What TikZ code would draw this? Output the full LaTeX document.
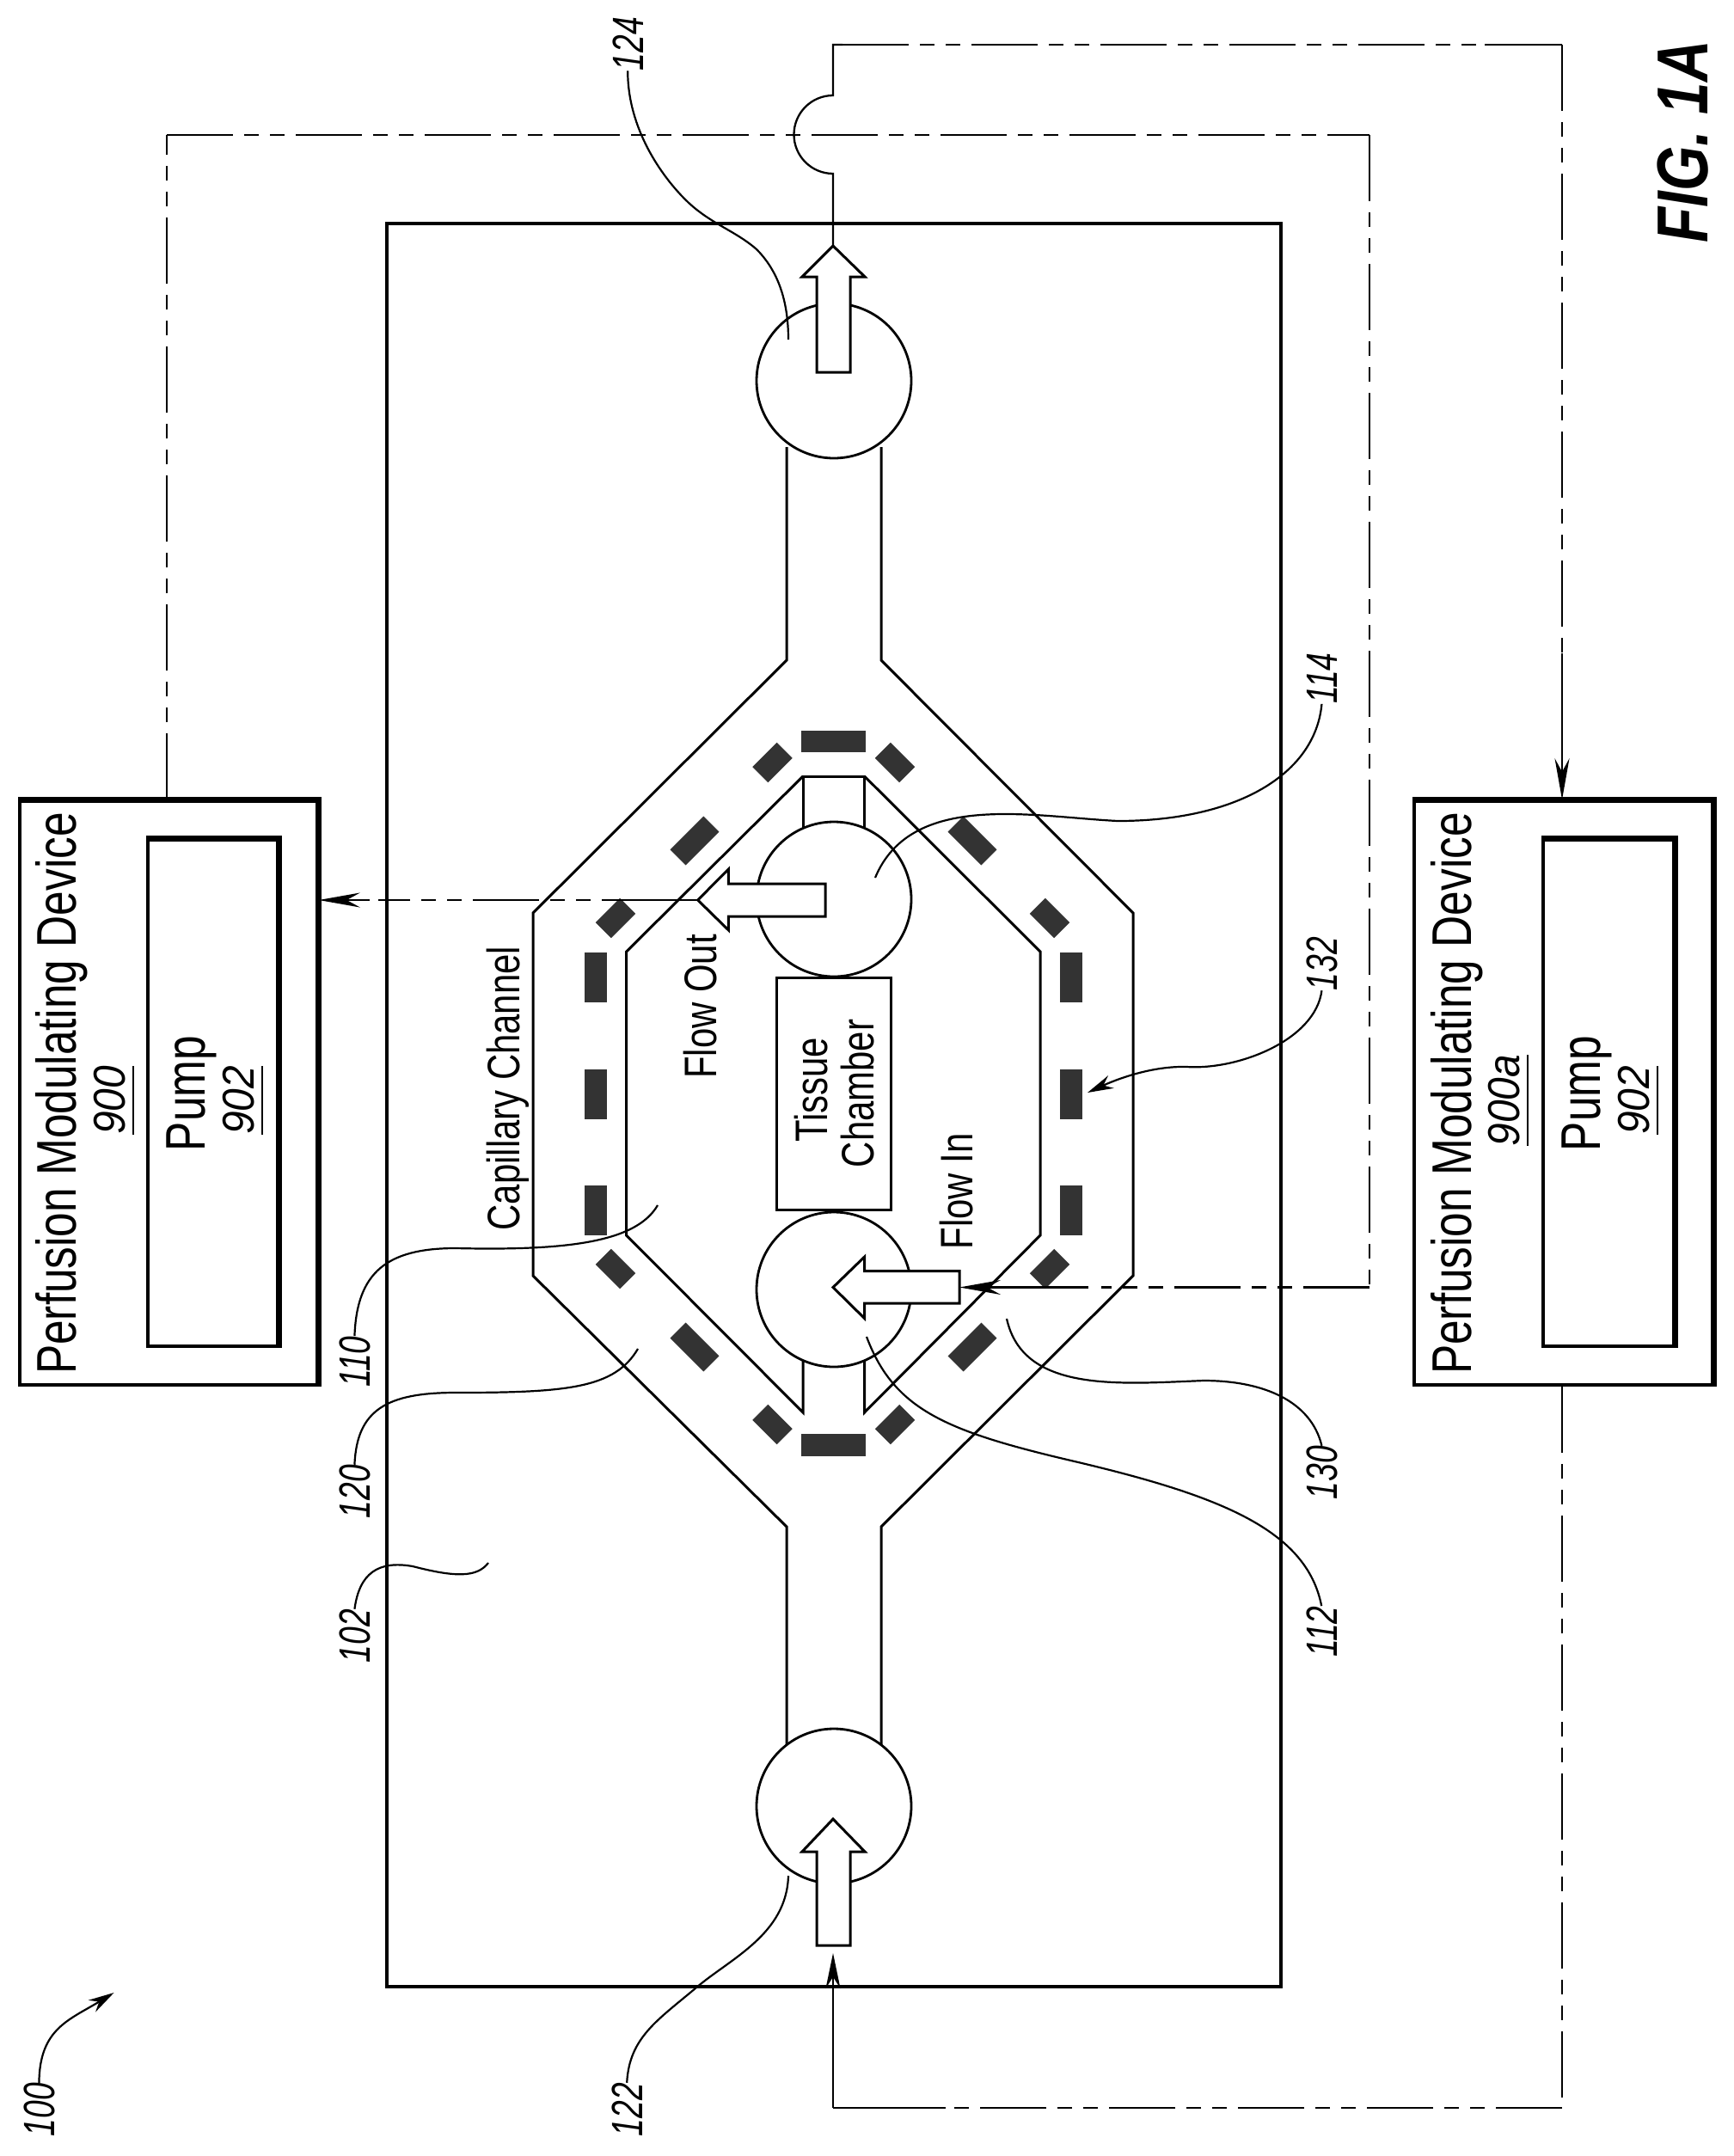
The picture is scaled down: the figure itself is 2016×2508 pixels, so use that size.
\documentclass[tikz,border=0pt]{standalone}
\usepackage{fontspec}
\setmainfont{Liberation Sans}
\newfontfamily\narrowf[FakeStretch=0.79]{Liberation Sans}
\newfontfamily\numf[FakeStretch=0.92]{Liberation Sans}
\newfontfamily\reff[FakeStretch=0.73]{Liberation Sans}
\newfontfamily\figf[FakeStretch=0.80]{Liberation Sans}
\newcommand{\numul}[1]{\setbox0=\hbox{#1}\makebox[0pt][l]{\raisebox{-11pt}{\rule{\wd0}{1.6pt}}}\box0}
\usetikzlibrary{arrows.meta,calc}
\tikzset{
 x=1pt,y=-1pt,
 wall/.style={draw=black,line width=3pt,line join=miter},
 lead/.style={draw=black,line width=2.2pt},
 leadarrow/.style={lead,-{Stealth[length=30pt,width=16pt]}},
 flowA/.style={draw=black,line width=2.8pt},
 flowB/.style={draw=black,line width=2.3pt},
 tipA/.style={-{Stealth[length=48pt,width=17pt]}},
 tipB/.style={-{Stealth[length=41pt,width=17pt]}},
 phantomline/.style={dash pattern=on 77pt off 13pt on 17pt off 13pt on 17pt off 13pt},
 phantomS/.style={dash pattern=on 17pt off 13pt on 17pt off 13pt on 77pt off 13pt},
 bigarrow/.style={draw=black,line width=3pt,fill=white,line join=miter},
 block/.style={fill=black!80,draw=none,minimum height=25.5pt,inner sep=0pt},
 blockS/.style={block,minimum width=40pt},
 blockL/.style={block,minimum width=55pt},
 blockM/.style={block,minimum width=58pt},
 blockT/.style={block,minimum width=75pt},
 reftext/.style={font=\reff\fontsize{51}{51}\selectfont\itshape,rotate=90,inner sep=0pt,anchor=base},
 dev/.style={font=\narrowf\fontsize{65}{65}\selectfont,rotate=90,inner sep=0pt,anchor=base},
 devnum/.style={font=\numf\fontsize{52}{52}\selectfont\itshape,rotate=90,inner sep=0pt,anchor=base},
 inlabel/.style={font=\narrowf\fontsize{53}{53}\selectfont,rotate=90,inner sep=0pt,anchor=base},
 port/.style={circle,draw=black,line width=2.8pt,fill=white,minimum size=180pt,inner sep=0pt},
 boxn/.style={rectangle,inner sep=0pt,draw=black,line width=3.6pt,fill=white},
 thickedge/.style={draw=black,line width=6.5pt,line join=miter},
}
\begin{document}
\begin{tikzpicture}
\useasboundingbox (0,0) rectangle (2016,2508);
\fill[white] (0,0) rectangle (2016,2508);
% main chip
\node[boxn,line width=4pt,fill=none,minimum width=1040pt,minimum height=2051pt] (chip) at (970,1285.5) {};
% outer channel
\draw[wall] (915,520) -- (915,768) -- (620,1062) -- (620,1484) -- (915,1776) -- (915,2030);
\draw[wall] (1025,520) -- (1025,768) -- (1318,1062) -- (1318,1484) -- (1025,1776) -- (1025,2030);
% inner channel
\draw[wall] (934,964) -- (934,903) -- (1005.6,903) -- (1005.6,964);
\draw[wall] (934,903) -- (728.6,1107) -- (728.6,1437) -- (934,1643) -- (934,1580);
\draw[wall] (1005.6,903) -- (1210,1107) -- (1210,1437) -- (1005.6,1643) -- (1005.6,1580);
% blocks
\node[blockT] (bt) at (969.5,862.5) {};
\node[blockT] (bb) at (969.5,1681) {};
\foreach \n/\x in {l/692.8,r/1245.8}{
 \foreach \m/\y in {a/1137,b/1272.5,c/1407.5}{
  \node[blockM,rotate=90] (b\n\m) at (\x,\y) {};
 }
}
\node[blockS,rotate=45] (d1) at (898.5,887) {};
\node[blockS,rotate=-45] (d2) at (1041,887) {};
\node[blockS,rotate=-45] (d3) at (898.5,1657) {};
\node[blockS,rotate=45] (d4) at (1041,1657) {};
\node[blockS,rotate=45] (d5) at (716,1068) {};
\node[blockS,rotate=-45] (d6) at (1221,1068) {};
\node[blockS,rotate=-45] (d7) at (716,1476) {};
\node[blockS,rotate=45] (d8) at (1221,1476) {};
\node[blockL,rotate=45] (d9) at (808,978) {};
\node[blockL,rotate=-45] (d10) at (1131,978) {};
\node[blockL,rotate=-45] (d11) at (808,1567) {};
\node[blockL,rotate=45] (d12) at (1131,1567) {};
% ports
\node[port] (p124) at (970,443) {};
\node[port] (p122) at (970,2101) {};
\node[port] (p114) at (970,1046) {};
\node[port] (p112) at (970,1500) {};
% tissue chamber
\node[boxn,line width=3pt,minimum width=133pt,minimum height=270pt] (tc) at (969.5,1272) {};
\node[inlabel] (tclabel1) at (962,1268) {Tissue};
\node[inlabel] (tclabel2) at (1016,1272) {Chamber};
% big arrows
\draw[bigarrow] (950,433) -- (950,322) -- (933,322) -- (969,286) -- (1006,322) -- (989,322) -- (989,433) -- cycle;
\draw[bigarrow] (950,2263) -- (950,2154) -- (933,2154) -- (969,2116) -- (1006,2154) -- (989,2154) -- (989,2263) -- cycle;
\draw[bigarrow] (960,1028) -- (847.4,1028) -- (847.4,1011) -- (811.7,1047) -- (847.4,1082) -- (847.4,1066) -- (960,1066) -- cycle;
\draw[bigarrow] (1116,1478.5) -- (1005.6,1478.5) -- (1005.6,1462) -- (969,1497.5) -- (1005.6,1533.6) -- (1005.6,1516) -- (1116,1516) -- cycle;
\coordinate (a124) at (969,286);
\coordinate (a114) at (811.7,1047);
\coordinate (a112) at (1116,1497.5);
% devices
\node[boxn,minimum width=346pt,minimum height=679pt] (dev900) at (196,1271.5) {};
\node[boxn,minimum width=151.5pt,minimum height=589pt] (pump900) at (247.5,1271.5) {};
\node[boxn,minimum width=347pt,minimum height=679pt] (dev900a) at (1818.5,1271.5) {};
\node[boxn,minimum width=152pt,minimum height=589pt] (pump900a) at (1871,1271.5) {};
\draw[thickedge] (dev900.north west) -- (dev900.north east) -- (dev900.south east);
\draw[thickedge] (pump900.north west) -- (pump900.north east) -- (pump900.south east);
\draw[thickedge] (dev900a.north west) -- (dev900a.north east) -- (dev900a.south east);
\draw[thickedge] (pump900a.north west) -- (pump900a.north east) -- (pump900a.south east);
\node[dev] (t1) at (88,1272) {Perfusion Modulating Device};
\node[devnum] (t2) at (145,1280) {\numul{900}};
\node[dev] (t3) at (238,1272) {Pump};
\node[devnum] (t4) at (295,1280) {\numul{902}};
\node[dev] (t5) at (1711,1272) {Perfusion Modulating Device};
\node[devnum] (t6) at (1767,1280) {\numul{900a}};
\node[dev] (t7) at (1861,1272) {Pump};
\node[devnum] (t8) at (1918,1280) {\numul{902}};
% text
\node[inlabel] (t9) at (833,1171) {Flow Out};
\node[inlabel] (t10) at (1131,1386) {Flow In};
\node[inlabel] (t11) at (604,1266) {Capillary Channel};
\node[font=\figf\fontsize{84}{84}\selectfont\bfseries\itshape,rotate=90,inner sep=0pt,anchor=base] (fig) at (1986,165) {FIG. 1A};
% flow lines
\coordinate (c1) at (194,157);
\coordinate (c2) at (1593,157);
\coordinate (c3) at (1593,1497.5);
\coordinate (c4) at (969,202);
\coordinate (c5) at (969,111);
\coordinate (c6) at (969,52);
\coordinate (c6b) at (980,52);
\coordinate (c7) at (1817,52);
\coordinate (c8) at (1817,2452);
\coordinate (c9) at (969,2452);
\coordinate (c14) at (969,2272);
% line out of 900 over the chip into Flow In
\draw[flowB,phantomline] (dev900.north -| c1) -- (c1);
\draw[flowB,phantomline] (c1) -- (c2);
\draw[flowB,phantomline] (c2) -- (c3);
\draw[flowB,phantomline] (c3) -- (1281,1497.5);
\draw[flowB,tipA] (1266,1497.5) -- (a112);
% Flow Out into 900
\draw[flowB] (a114) -- (700,1047);
\draw[flowB,phantomS] (687,1047) -- (440,1047);
\draw[flowB,tipA] (430,1047) -- (dev900.east |- a114);
% 124 out to 900a
\draw[flowB] (a124) -- (c4) arc[start angle=90,end angle=270,radius=45.5] -- (c6) -- (c6b);
\draw[flowA,phantomline] (c6b) -- (1730,52);
\draw[flowA] (1727,52) -- (c7);
\draw[flowB,phantomline] (c7) -- (1817,760);
\draw[flowB,tipA] (1817,760) -- (dev900a.north -| c7);
% 900a back to 122
\draw[flowB,phantomline] (dev900a.south -| c8) -- (c8);
\draw[flowB,phantomline] (c8) -- (1100,2452);
\draw[flowB] (1100,2452) -- (c9);
\draw[flowB,tipB] (c9) -- (c14);
% leaders
\node[reftext] (r124) at (748,51) {124};
\coordinate (e124) at (917,395);
\draw[lead] (r124.west) .. controls (730,150) and (770,205) .. (797,232) .. controls (825,260) and (855,268) .. (880,290) .. controls (905,315) and (917,350) .. (e124);
\node[reftext] (r114) at (1555,789) {114};
\coordinate (e114) at (1018,1021);
\draw[lead] (r114.west) .. controls (1530,900) and (1440,955) .. (1300,955) .. controls (1200,950) and (1060,920) .. (e114);
\node[reftext] (r132) at (1555,1121) {132};
\coordinate (e132) at (1265,1271);
\draw[leadarrow] (r132.west) .. controls (1530,1210) and (1440,1245) .. (1380,1241) .. controls (1340,1240) and (1300,1255) .. (e132);
\node[reftext] (r130) at (1555,1713) {130};
\coordinate (e130) at (1171,1534);
\draw[lead] (r130.east) .. controls (1525,1630) and (1470,1606) .. (1400,1606) .. controls (1300,1610) and (1190,1620) .. (e130);
\node[reftext] (r112) at (1555,1898) {112};
\coordinate (e112) at (1008,1555);
\draw[lead] (r112.east) .. controls (1520,1780) and (1420,1740) .. (1250,1700) .. controls (1100,1665) and (1040,1640) .. (e112);
\node[reftext] (r110) at (430,1584) {110};
\coordinate (e110) at (765,1402);
\draw[lead] (r110.east) .. controls (415,1480) and (450,1452) .. (530,1452) .. controls (660,1455) and (740,1445) .. (e110);
\node[reftext] (r120) at (430,1735) {120};
\coordinate (e120) at (742,1569);
\draw[lead] (r120.east) .. controls (415,1640) and (450,1620) .. (530,1620) .. controls (660,1620) and (715,1615) .. (e120);
\node[reftext] (r102) at (430,1903) {102};
\coordinate (e102) at (568,1818);
\draw[lead] (r102.east) .. controls (418,1830) and (440,1815) .. (480,1822) .. controls (530,1835) and (555,1835) .. (e102);
\node[reftext] (r122) at (747,2454) {122};
\coordinate (e122) at (917,2182);
\draw[lead] (r122.east) .. controls (732,2370) and (765,2350) .. (810,2312) .. controls (850,2278) and (915,2250) .. (e122);
\node[reftext] (r100) at (63,2454) {100};
\coordinate (e100) at (132.6,2318);
\draw[leadarrow] (r100.east) .. controls (46,2360) and (80,2350) .. (e100);
\end{tikzpicture}
\end{document}
